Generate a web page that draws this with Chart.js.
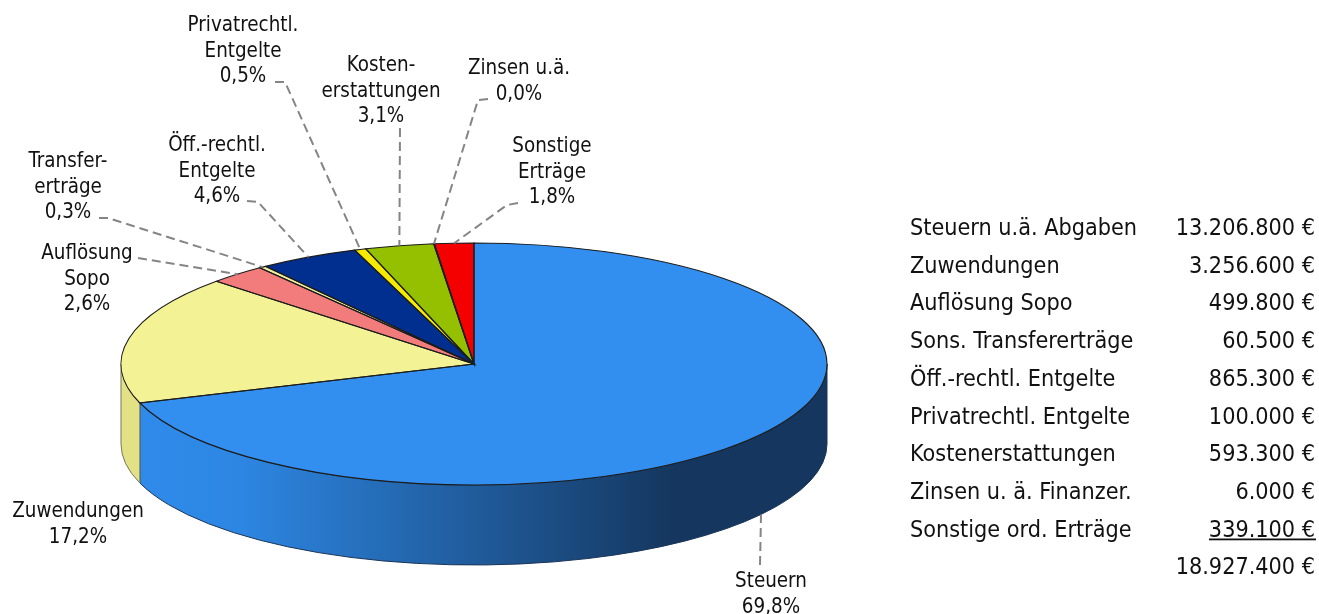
<!DOCTYPE html>
<html lang="de">
<head>
<meta charset="utf-8">
<title>Erträge</title>
<style>
  html, body { margin: 0; background: #fff; }
  canvas { display: block; }
</style>
<script src="https://cdn.jsdelivr.net/npm/chart.js@4"></script>
</head>
<body>
<canvas id="myChart" width="1319" height="614"></canvas>
<script>
const categories = ['Steuern', 'Zuwendungen', 'Auflösung Sopo', 'Transfererträge', 'Öff.-rechtl. Entgelte', 'Privatrechtl. Entgelte', 'Kostenerstattungen', 'Zinsen u.ä.', 'Sonstige Erträge'];
const values = [13206800, 3256600, 499800, 60500, 865300, 100000, 593300, 6000, 339100];

const tableNames = ['Steuern u.ä. Abgaben', 'Zuwendungen', 'Auflösung Sopo', 'Sons. Transfererträge', 'Öff.-rechtl. Entgelte', 'Privatrechtl. Entgelte', 'Kostenerstattungen', 'Zinsen u. ä. Finanzer.', 'Sonstige ord. Erträge', ''];
const tableAmounts = ['13.206.800 €', '3.256.600 €', '499.800 €', '60.500 €', '865.300 €', '100.000 €', '593.300 €', '6.000 €', '339.100 €', '18.927.400 €'];

const sliceLabels = [
  ['Steuern', '69,8%'],
  ['Zuwendungen', '17,2%'],
  ['Auflösung', 'Sopo', '2,6%'],
  ['Transfer-', 'erträge', '0,3%'],
  ['Öff.-rechtl.', 'Entgelte', '4,6%'],
  ['Privatrechtl.', 'Entgelte', '0,5%'],
  ['Kosten-', 'erstattungen', '3,1%'],
  ['Zinsen u.ä.', '0,0%'],
  ['Sonstige', 'Erträge', '1,8%']
];

const topColors = ['#328fef', '#f3f295', '#f27c7c', '#f0efa0', '#002f8f', '#f5ea00', '#94c000', '#f5ea00', '#f50000'];
const wallColors = [null, '#e3e186', '#c96565', '#c8c782', '#002270', '#c8bd00', '#779a00', '#c8bd00', '#c00000'];

// label placement: text centre x, first baseline, then the leader's elbow points
const labelLayout = [
  {x: 771, y: 587, leader: [[760, 565]]},
  {x: 78, y: 517, leader: null},
  {x: 87, y: 259, leader: [[138, 258]]},
  {x: 68, y: 167, leader: [[99, 218], [108, 218]]},
  {x: 217, y: 151, leader: [[247, 201], [258, 202]]},
  {x: 243, y: 31, leader: [[275, 82], [285, 82]]},
  {x: 381, y: 71, leader: [[400, 128]]},
  {x: 519, y: 74, leader: [[488, 99], [478, 100]]},
  {x: 552, y: 152, leader: [[518, 203], [507, 205]]}
];

const LABEL_FONT = "20.4px 'DejaVu Sans Condensed', 'DejaVu Sans', sans-serif";
const TABLE_FONT = "23.2px 'DejaVu Sans Condensed', 'DejaVu Sans', sans-serif";
const LINE_HEIGHT = 25.6;
const SQUASH = 121 / 353;
const DEPTH = 80;

const pie3d = {
  id: 'pie3d',
  beforeDatasetsDraw(chart) {
    const {ctx} = chart;
    const arcs = chart.getDatasetMeta(0).data;
    const {x: cx, y: cy, outerRadius: rx} = arcs[0];
    const ry = rx * SQUASH;

    const blue = ctx.createLinearGradient(cx - rx, 0, cx + rx, 0);
    blue.addColorStop(0, '#2f8bec');
    blue.addColorStop(0.17, '#2d86e2');
    blue.addColorStop(0.78, '#15375f');
    blue.addColorStop(1, '#15375f');

    // walls only exist on the front half of the ellipse
    arcs.forEach((arc, i) => {
      const lo = Math.max(arc.startAngle, 0);
      const hi = Math.min(arc.endAngle, Math.PI);
      if (hi <= lo) return;
      ctx.beginPath();
      ctx.ellipse(cx, cy, rx, ry, 0, lo, hi);
      ctx.ellipse(cx, cy + DEPTH, rx, ry, 0, hi, lo, true);
      ctx.closePath();
      ctx.fillStyle = wallColors[i] || blue;
      ctx.fill();
      ctx.lineWidth = 1;
      ctx.strokeStyle = i === 0 ? '#1a3557' : '#77775a';
      ctx.stroke();
    });

    // squash the library's round pie into the ellipse
    ctx.save();
    ctx.translate(cx, cy);
    ctx.scale(1, SQUASH);
    ctx.translate(-cx, -cy);
  },
  afterDatasetsDraw(chart) {
    const {ctx} = chart;
    ctx.restore();

    const arcs = chart.getDatasetMeta(0).data;
    const {x: cx, y: cy, outerRadius: rx} = arcs[0];
    const ry = rx * SQUASH;

    // outlines go on after the squash so the pen stays even all round
    ctx.save();
    ctx.strokeStyle = '#1c1c1c';
    ctx.lineWidth = 1.1;
    arcs.forEach(arc => {
      ctx.beginPath();
      ctx.moveTo(cx, cy);
      ctx.ellipse(cx, cy, rx, ry, 0, arc.startAngle, arc.endAngle);
      ctx.closePath();
      ctx.stroke();
    });
    ctx.restore();

    ctx.save();
    ctx.strokeStyle = '#858585';
    ctx.lineWidth = 2;
    ctx.setLineDash([9, 5]);
    labelLayout.forEach((item, i) => {
      if (!item.leader) return;
      const mid = (arcs[i].startAngle + arcs[i].endAngle) / 2;
      const front = Math.sin(mid) > 0;
      ctx.beginPath();
      item.leader.forEach(([px, py], n) => {
        if (n === 0) ctx.moveTo(px, py);
        else ctx.lineTo(px, py);
      });
      ctx.lineTo(cx + rx * Math.cos(mid), cy + ry * Math.sin(mid) + (front ? DEPTH : 0));
      ctx.stroke();
    });
    ctx.restore();

    ctx.save();
    ctx.fillStyle = '#111';
    ctx.textBaseline = 'alphabetic';
    ctx.textAlign = 'center';
    ctx.font = LABEL_FONT;
    sliceLabels.forEach((lines, i) => {
      lines.forEach((line, n) => {
        ctx.fillText(line, labelLayout[i].x, labelLayout[i].y + n * LINE_HEIGHT);
      });
    });

    ctx.font = TABLE_FONT;
    tableAmounts.forEach((amount, i) => {
      const y = 235 + i * 37.7;
      ctx.textAlign = 'left';
      ctx.fillText(tableNames[i], 910, y);
      ctx.textAlign = 'right';
      ctx.fillText(amount, 1315, y);
    });
    ctx.fillRect(1209, 538.5, 107, 1.8);
    ctx.restore();
  }
};

new Chart(document.getElementById('myChart'), {
  type: 'pie',
  data: {
    labels: categories,
    datasets: [{
      data: values,
      backgroundColor: topColors,
      borderWidth: 0,
      clip: false
    }]
  },
  options: {
    responsive: false,
    animation: false,
    radius: 353,
    layout: {padding: {top: 114, right: 371}},
    plugins: {
      legend: {display: false},
      tooltip: {enabled: false}
    }
  },
  plugins: [pie3d]
});
</script>
</body>
</html>
